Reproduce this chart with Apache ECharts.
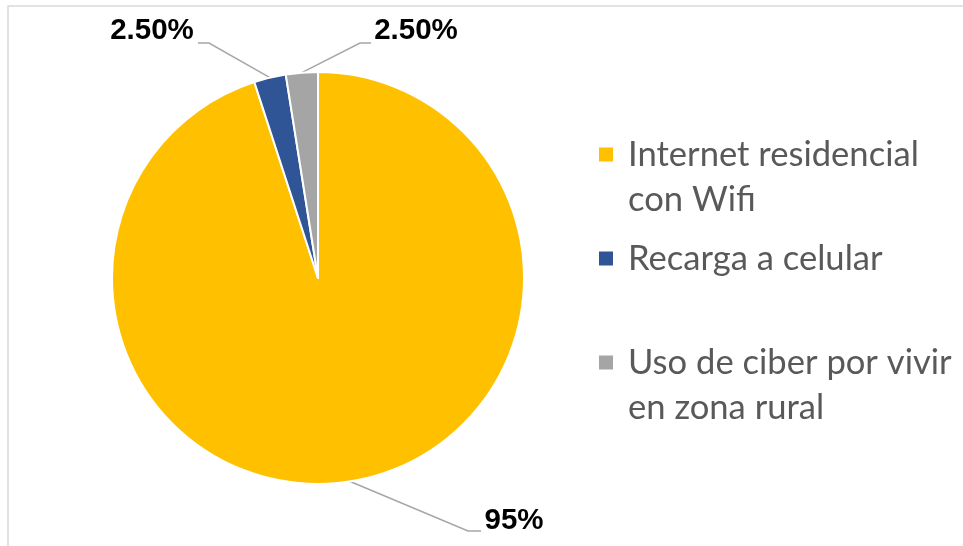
<!DOCTYPE html>
<html>
<head>
<meta charset="utf-8">
<style>
  html, body { margin: 0; padding: 0; background: #ffffff; }
  #chart { width: 963px; height: 546px; }
</style>
<script src="https://cdn.jsdelivr.net/npm/echarts@6/dist/echarts.min.js"></script>
</head>
<body>
<div id="chart"></div>
<script>
// ---- data ----
const categories = ['Internet residencial con Wifi', 'Recarga a celular', 'Uso de ciber por vivir en zona rural'];
const legendLabels = ['Internet residencial\ncon Wifi', 'Recarga a celular', 'Uso de ciber por vivir\nen zona rural'];
const values = [95, 2.5, 2.5];
const valueLabels = ['95%', '2.50%', '2.50%'];
const colors = ['#FFC000', '#2F5597', '#A5A5A5'];

// ---- pick legend font size so "Internet residencial" is ~291px wide ----
const legendFont = 'Lato';
const ctx = document.createElement('canvas').getContext('2d');
ctx.font = '100px ' + legendFont;
const w100 = ctx.measureText('Internet residencial').width;
const legendSize = Math.round(291 / w100 * 100 * 10) / 10;
const LH = 45;

// label positions (centres of text) and elbow points of leader lines
const labelPos = [
  { x: 514, y: 521, elbow: [468, 531], end: [481, 531] },
  { x: 152, y: 31, elbow: [209, 43], end: [198, 43] },
  { x: 416, y: 31, elbow: [360, 43], end: [371, 43] }
];

const chart = echarts.init(document.getElementById('chart'), null, { renderer: 'canvas' });

chart.setOption({
  animation: false,
  backgroundColor: '#ffffff',
  color: colors,
  graphic: [{
    type: 'rect',
    shape: { x: 8, y: 6, width: 1000, height: 600 },
    style: { fill: 'none', stroke: '#D9D9D9', lineWidth: 1.5 },
    silent: true,
    z: -1
  }],
  legend: {
    orient: 'vertical',
    left: 592,
    top: 82,
    itemWidth: 25,
    itemHeight: 16,
    itemGap: 14,
    icon: 'path://M0,0H16V16H0Z M25,16H24.99V15.99H25Z',
    data: categories,
    formatter: function (name) {
      const t = legendLabels[categories.indexOf(name)];
      // a leading blank line keeps the marker level with the first text line
      return t.indexOf('\n') >= 0 ? ' \n' + t : t;
    },
    textStyle: {
      fontFamily: legendFont,
      fontSize: legendSize,
      lineHeight: LH,
      color: '#595959'
    }
  },
  series: [{
    type: 'pie',
    center: [318, 278],
    radius: 206,
    startAngle: 90,
    clockwise: true,
    avoidLabelOverlap: false,
    itemStyle: { borderColor: '#ffffff', borderWidth: 2 },
    label: {
      show: true,
      position: 'outside',
      formatter: function (p) { return valueLabels[p.dataIndex]; },
      fontFamily: 'Liberation Sans, Arial, sans-serif',
      fontWeight: 'bold',
      fontSize: 29.5,
      color: '#000000'
    },
    labelLine: {
      show: true,
      length: 20,
      length2: 10,
      lineStyle: { color: '#A6A6A6', width: 1.5 }
    },
    labelLayout: function (p) {
      const lp = labelPos[p.dataIndex];
      const start = p.labelLinePoints ? p.labelLinePoints[0] : [lp.elbow[0], lp.elbow[1]];
      return {
        x: lp.x,
        y: lp.y,
        align: 'center',
        verticalAlign: 'middle',
        labelLinePoints: [start, lp.elbow, lp.end]
      };
    },
    data: categories.map((c, i) => ({ name: c, value: values[i] }))
  }]
});
</script>
</body>
</html>
